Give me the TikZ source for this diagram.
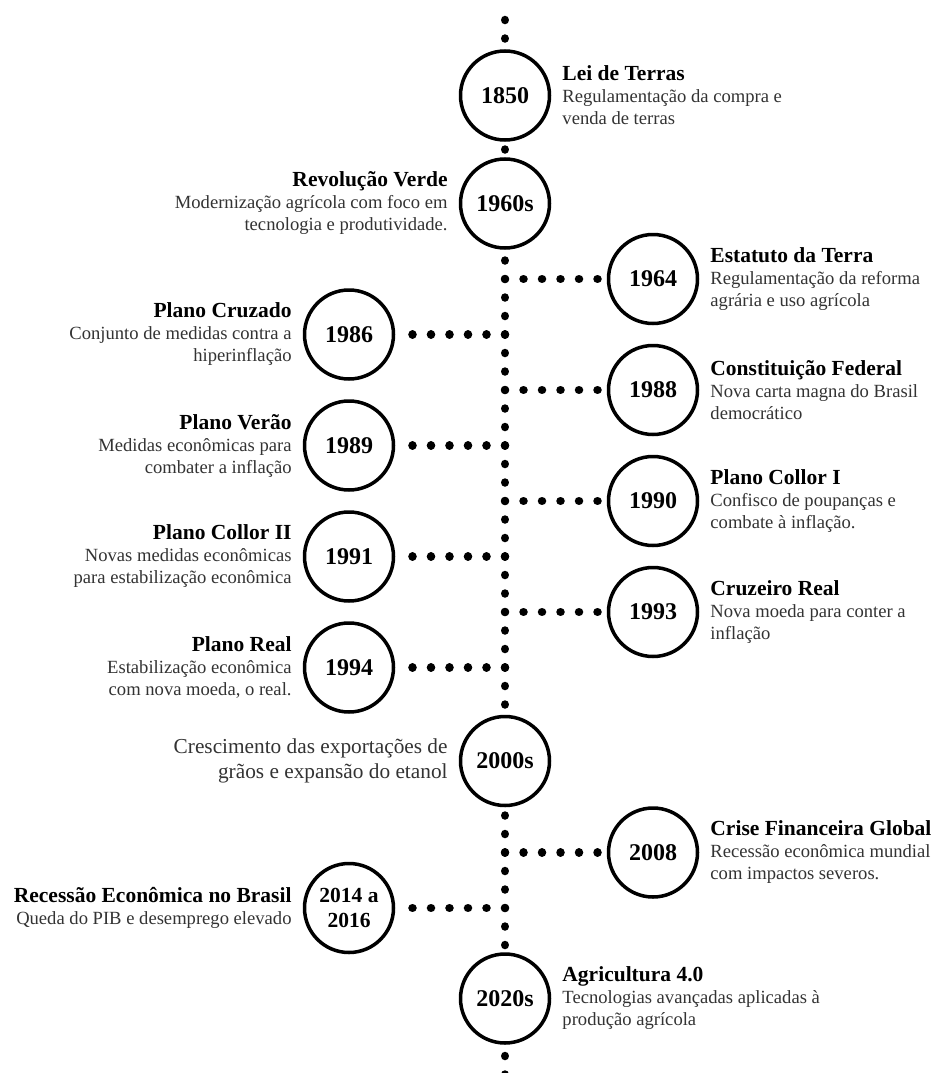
\documentclass[tikz,border=0pt]{standalone}
\usepackage{fontspec}
\setmainfont{Liberation Serif}
\usetikzlibrary{positioning}

\tikzset{
	year/.style={circle,draw,line width=3.5pt,fill=white,minimum size=89pt,inner sep=0pt,
		font=\bfseries\fontsize{24}{26}\selectfont},
	dotline/.style={line width=8.5pt,line cap=round,dash pattern=on 0.01pt off 18.49pt},
	infoR/.style={align=left,inner sep=0pt,text=black!80,font=\fontsize{18.6}{22}\selectfont},
	infoL/.style={align=right,inner sep=0pt,text=black!80,font=\fontsize{18.6}{22}\selectfont}
}
\newcommand{\ttl}[1]{{\color{black}\bfseries\fontsize{21.5}{24}\selectfont #1}}

\begin{document}
\begin{tikzpicture}[x=1pt,y=-1pt]
	\fill[white] (0,0) rectangle (935,1073);
	\useasboundingbox (0,0) rectangle (935,1073);
	% main line
	\coordinate (top) at (505,20);
	\coordinate (bottom) at (505,1090);
	\draw[dotline] (top) -- (bottom);
	% years
	\node[year] (c1850) at (505,95.5) {1850};
	\node[year] (c1960) at (505,203.5) {1960s};
	\node[year] (c1964) at (653,279) {1964};
	\node[year] (c1986) at (349,334.5) {1986};
	\node[year] (c1988) at (653,390) {1988};
	\node[year] (c1989) at (349,445.5) {1989};
	\node[year] (c1990) at (653,501) {1990};
	\node[year] (c1991) at (349,556.5) {1991};
	\node[year] (c1993) at (653,612) {1993};
	\node[year] (c1994) at (349,667.5) {1994};
	\node[year] (c2000) at (505,761) {2000s};
	\node[year] (c2008) at (653,852.5) {2008};
	\node[year,align=center,font=\bfseries\fontsize{21.5}{25}\selectfont] (c2014) at (349,908) {2014 a\\2016};
	\node[year] (c2020) at (505,998.5) {2020s};
	% branches
	\begin{scope}[dotline,shorten >=5pt]
		\draw (c1964 -| top) -- (c1964);
		\draw (c1986 -| top) -- (c1986);
		\draw (c1988 -| top) -- (c1988);
		\draw (c1989 -| top) -- (c1989);
		\draw (c1990 -| top) -- (c1990);
		\draw (c1991 -| top) -- (c1991);
		\draw (c1993 -| top) -- (c1993);
		\draw (c1994 -| top) -- (c1994);
		\draw (c2008 -| top) -- (c2008);
		\draw (c2014 -| top) -- (c2014);
	\end{scope}
	% texts
	\node[infoR,right=11pt of c1850] (t1850) {\ttl{Lei de Terras}\\Regulamentação da compra e\\venda de terras};
	\node[infoL,left=11pt of c1960] (t1960) {\ttl{Revolução Verde}\\Modernização agrícola com foco em\\tecnologia e produtividade.};
	\node[infoR,right=11pt of c1964] (t1964) {\ttl{Estatuto da Terra}\\Regulamentação da reforma\\agrária e uso agrícola};
	\node[infoL,left=11pt of c1986] (t1986) {\ttl{Plano Cruzado}\\Conjunto de medidas contra a\\hiperinflação};
	\node[infoR,right=11pt of c1988] (t1988) {\ttl{Constituição Federal}\\Nova carta magna do Brasil\\democrático};
	\node[infoL,left=11pt of c1989] (t1989) {\ttl{Plano Verão}\\Medidas econômicas para\\combater a inflação};
	\node[infoR,right=11pt of c1990] (t1990) {\ttl{Plano Collor I}\\Confisco de poupanças e\\combate à inflação.};
	\node[infoL,left=11pt of c1991] (t1991) {\ttl{Plano Collor II}\\Novas medidas econômicas\\para estabilização econômica};
	\node[infoR,right=11pt of c1993] (t1993) {\ttl{Cruzeiro Real}\\Nova moeda para conter a\\inflação};
	\node[infoL,left=11pt of c1994] (t1994) {\ttl{Plano Real}\\Estabilização econômica\\com nova moeda, o real.};
	\node[infoL,left=11pt of c2000,font=\fontsize{21.3}{25}\selectfont] (t2000) {Crescimento das exportações de\\grãos e expansão do etanol};
	\node[infoR,right=11pt of c2008] (t2008) {\ttl{Crise Financeira Global}\\Recessão econômica mundial\\com impactos severos.};
	\node[infoL,left=11pt of c2014] (t2014) {\ttl{Recessão Econômica no Brasil}\\Queda do PIB e desemprego elevado};
	\node[infoR,right=11pt of c2020] (t2020) {\ttl{Agricultura 4.0}\\Tecnologias avançadas aplicadas à\\produção agrícola};
\end{tikzpicture}
\end{document}
